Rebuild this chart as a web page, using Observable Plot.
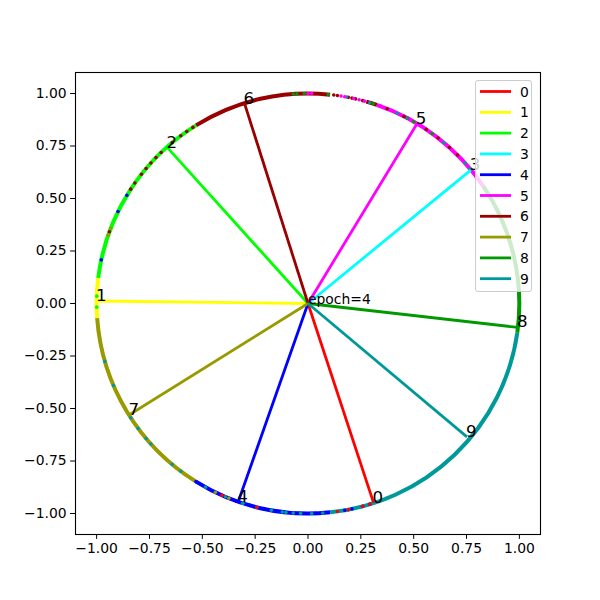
<!DOCTYPE html>
<html><head><meta charset="utf-8">
<script src="https://cdn.jsdelivr.net/npm/d3@7"></script>
<script src="https://cdn.jsdelivr.net/npm/@observablehq/plot@0.6"></script>
<style>
body{margin:0;background:#fff;font-family:"DejaVu Sans",sans-serif}
#wrap{position:relative;width:600px;height:600px}
#legend{position:absolute;left:475px;top:80px;width:57px;height:212px;background:rgba(255,255,255,0.8);border:1px solid #cccccc;border-radius:3px;box-sizing:border-box}
</style>
</head><body><div id="wrap"></div>
<script>
// ---- data ----
const classes = ["0","1","2","3","4","5","6","7","8","9"];
const classColors = ["#ff0000","#ffff00","#00ff00","#00ffff","#0000ff","#ff00ff","#990000","#999900","#009900","#009999"];
// class centre (end of each spoke)
const centerX = [0.31, -0.998, -0.665, 0.77, -0.33, 0.515, -0.3, -0.845, 0.994, 0.752];
const centerY = [-0.948, 0.012, 0.742, 0.635, -0.944, 0.855, 0.952, -0.53, -0.114, -0.635];
const epochText = "epoch=4";
// dominant colour bands of the points on the unit circle (degrees)
const arcClass = [8, 5, 6, 6, 2, 1, 7, 4, 9];
const arcStart = [-8, 34, 71, 84, 122, 173, 184, 238, 276];
const arcEnd   = [34, 71, 74, 122, 173, 184, 238, 276, 352];
// isolated points of other classes (class, angle in degrees)
const speckClass = [
  6,6,6,6,6,6,6,6,6,6,6,6, 6,6,6,6,6,6,6,6,6,6,6,6,6,
  4,4,4,4,4,4,4,4,4,4,4,4,4,
  7,7,7,7,
  9,9,9,9,9,9,9,9,9,9,9,9,9,9,9,9,9,9,9,9,9,9,9,9,9,9,9,
  0,0,0,0,0,0,
  8,8,8,8,8,8,8,
  5,5,5,5,5,5,5,5,
  2,2,2
];
const speckAngle = [
  123,125,127,130,134,136,138,140,142,145,147,160, 75,77,79,63,62,56,52,48,45,68,78,82,83,
  149,154,168,238,250,254,258,261,272,280,282,285,287,
  159,161,244,248,
  196,203,213,216.5,220,222,230,233,241,247,252,256,260,263,266,268,271,274,252,264,73,65,62,50,42,40,79.5,
  246,256,278,281,285,287,
  84.5,93,94,91,72,60,54,
  89,90,80,81,76,70,74.5,77.5,
  178,181,170
];
const xTicks = [-1, -0.75, -0.5, -0.25, 0, 0.25, 0.5, 0.75, 1];
const yTicks = [-1, -0.75, -0.5, -0.25, 0, 0.25, 0.5, 0.75, 1];

// ---- build tables ----
const rad = Math.PI / 180;
const arcs = arcClass.map((c, i) => ({c, a0: arcStart[i], a1: arcEnd[i]}));
const specks = speckClass.map((c, i) => ({c, a: speckAngle[i]}));
const centers = classes.map((k, i) => ({k, i, x: centerX[i], y: centerY[i]}));
const color = i => classColors[i];

const arcMarks = arcs.map(d => Plot.arrow([d], {
  x1: d => Math.cos(d.a0 * rad), y1: d => Math.sin(d.a0 * rad),
  x2: d => Math.cos(d.a1 * rad), y2: d => Math.sin(d.a1 * rad),
  bend: -(d.a1 - d.a0) / 2, headLength: 0,
  stroke: classColors[d.c], strokeWidth: 4, strokeLinecap: "butt"
}));

const plot = Plot.plot({
  width: 600, height: 600,
  marginLeft: 75, marginRight: 60, marginTop: 72, marginBottom: 66,
  x: {domain: [-1.1, 1.1]},
  y: {domain: [-1.1, 1.1]},
  style: {fontFamily: "DejaVu Sans", fontSize: "13.9px", color: "black", background: "white"},
  marks: [
    ...arcMarks,
    Plot.dot(specks, {x: d => Math.cos(d.a * rad), y: d => Math.sin(d.a * rad), r: 1.8, fill: d => color(d.c), stroke: null}),
    Plot.link(centers, {x1: () => 0, y1: () => 0, x2: "x", y2: "y", stroke: d => color(d.i), strokeWidth: 2.8}),
    Plot.text(centers, {x: "x", y: "y", text: "k", textAnchor: "start", lineAnchor: "middle", dx: -1, dy: -5.3, fontSize: 16.7, fill: "black"}),
    Plot.text([epochText], {x: () => 0, y: () => 0, text: d => d, textAnchor: "start", lineAnchor: "middle", dy: -4.4, fontSize: 13.9, fill: "black"}),
    Plot.frame({stroke: "black", strokeWidth: 1.1}),
    Plot.axisX({ticks: xTicks, tickFormat: d3.format(".2f"), tickSize: 4.9, tickPadding: 4, label: null}),
    Plot.axisY({ticks: yTicks, tickFormat: d3.format(".2f"), tickSize: 4.9, tickPadding: 4, label: null})
  ]
});
const wrap = document.getElementById("wrap");
wrap.appendChild(plot);

// ---- legend ----
const leg = d3.select(wrap).append("div").attr("id", "legend");
const lsvg = leg.append("svg").attr("width", 56).attr("height", 210);
classes.forEach((k, i) => {
  const cy = 10.5 + i * 20.8;
  lsvg.append("line").attr("x1", 4).attr("x2", 35).attr("y1", cy).attr("y2", cy)
    .attr("stroke", classColors[i]).attr("stroke-width", 2.8);
  lsvg.append("text").attr("x", 44).attr("y", cy).attr("dy", "0.36em")
    .attr("font-family", "DejaVu Sans").attr("font-size", 13.9).attr("fill", "black").text(k);
});
</script>
</body></html>
